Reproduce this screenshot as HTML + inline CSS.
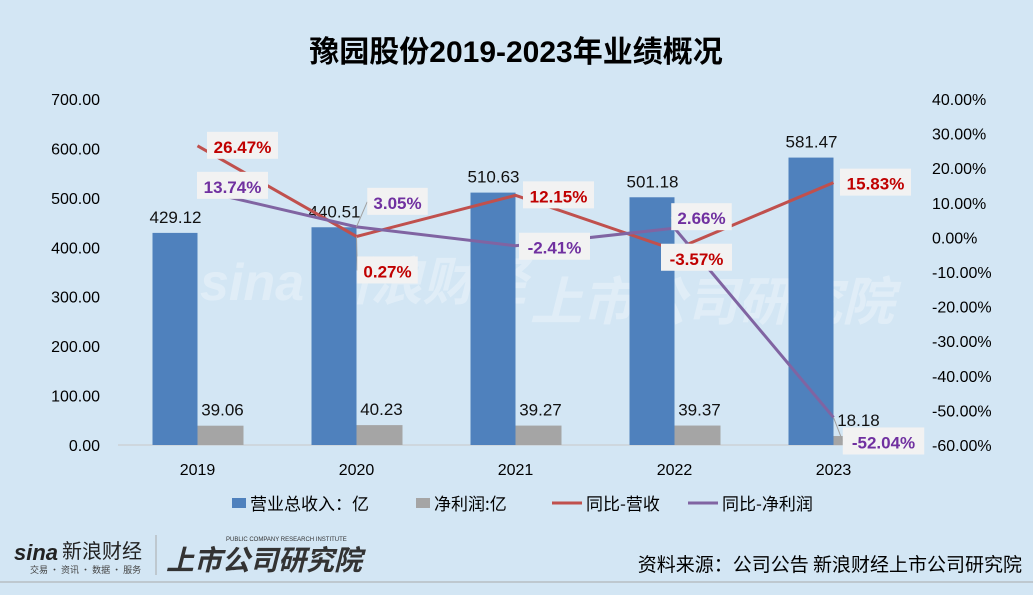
<!DOCTYPE html>
<html><head><meta charset="utf-8"><style>
body{margin:0;width:1033px;height:595px;background:#d3e6f4;overflow:hidden;font-family:"Liberation Sans","Noto Sans CJK SC",sans-serif}
svg{position:absolute;left:0;top:0}
</style></head><body>
<svg id="c" width="1033" height="595">
<text x="516" y="62" text-anchor="middle" font-size="30" font-weight="bold" fill="#000" font-family="Liberation Sans,Noto Sans CJK SC,sans-serif">豫园股份2019-2023年业绩概况</text>
<g opacity="0.3" fill="#fff" font-weight="bold" font-family="Liberation Sans,Noto Sans CJK SC,sans-serif">
<text x="200" y="300" font-size="52" font-style="italic">sina 新浪财经</text>
<text x="530" y="320" font-size="52" font-style="italic">上市公司研究院</text>
</g>
<g id="axes"></g><g id="marks"></g>
<line x1="0" y1="582" x2="1033" y2="582" stroke="#aaa" stroke-width="1"/>
<g><text x="14" y="560" font-size="22" font-weight="bold" font-style="italic" fill="#222">sina</text><text x="62" y="558" font-size="20" fill="#222" font-family="Noto Sans CJK SC,sans-serif">新浪财经</text><text x="30" y="573" font-size="9" fill="#444" font-family="Noto Sans CJK SC,sans-serif">交易 · 资讯 · 数据 · 服务</text></g>
<line x1="156" y1="535" x2="156" y2="575" stroke="#aaa"/>
<g><text x="226" y="541" font-size="6" fill="#333">PUBLIC COMPANY RESEARCH INSTITUTE</text><text x="166" y="570" font-size="28" font-weight="bold" font-style="italic" fill="#333" font-family="Noto Sans CJK SC,sans-serif">上市公司研究院</text></g>
<text x="1022" y="571" text-anchor="end" font-size="19" fill="#000" font-family="Noto Sans CJK SC,sans-serif">资料来源：公司公告 新浪财经上市公司研究院</text>
</svg>
<script>
const years=["2019","2020","2021","2022","2023"];
const revenue=[429.12,440.51,510.63,501.18,581.47];
const profit=[39.06,40.23,39.27,39.37,18.18];
const revYoY=[26.47,0.27,12.15,-3.57,15.83];
const profYoY=[13.74,3.05,-2.41,2.66,-52.04];
const leftTicks=[0,100,200,300,400,500,600,700];
const rightTicks=[40,30,20,10,0,-10,-20,-30,-40,-50,-60];
const NS="http://www.w3.org/2000/svg";
const x0=118,cw=159,base=445,plotTop=99;
const yL=v=>base-(v/700)*(base-plotTop);
const yR=v=>base-((v+60)/100)*(base-plotTop);
const cx=i=>x0+cw*(i+0.5);
const ax=document.getElementById('axes'),mk=document.getElementById('marks');
function el(t,a,p,txt){const e=document.createElementNS(NS,t);for(const k in a)e.setAttribute(k,a[k]);if(txt!==undefined)e.textContent=txt;p.appendChild(e);return e;}
leftTicks.forEach(v=>{const t=el('text',{x:100,y:yL(v)+6,'text-anchor':'end','font-size':16,fill:'#000'},ax,v.toFixed(2));

});
rightTicks.forEach(v=>{const t=el('text',{x:932,y:yR(v)+6,'font-size':16,fill:'#000'},ax,v.toFixed(2)+'%');

});
const bl=el('line',{x1:x0,y1:base,x2:x0+cw*5,y2:base,stroke:'#c8c8c8'},ax);


years.forEach((y,i)=>{const t=el('text',{x:cx(i),y:475,'text-anchor':'middle','font-size':16,fill:'#000'},ax,y);

});
years.forEach((y,i)=>{
const b=el('rect',{x:cx(i)-45,y:yL(revenue[i]),width:45,height:base-yL(revenue[i]),fill:'#4f81bd'},mk);


const g=el('rect',{x:cx(i),y:yL(profit[i]),width:46,height:base-yL(profit[i]),fill:'#a5a5a5'},mk);


const l1=el('text',{x:cx(i)-22,y:yL(revenue[i])-10,'text-anchor':'middle','font-size':17,fill:'#111'},mk,revenue[i].toFixed(2));


const l2=el('text',{x:cx(i)+25,y:yL(profit[i])-10,'text-anchor':'middle','font-size':17,fill:'#111'},mk,profit[i].toFixed(2));


});
function line(data,color,name){const p=el('polyline',{points:data.map((v,i)=>cx(i)+','+yR(v)).join(' '),fill:'none',stroke:color,'stroke-width':3},mk);

}
line(revYoY,'#c0504d','revenue-yoy-line');
line(profYoY,'#8064a2','profit-yoy-line');
const rOff=[[45,0],[31,34],[43,0],[22,8],[42,0]];
const pOff=[[35,-4],[41,-25],[39,1],[27,-11],[50,24]];
const leader=[[0,0],[1,1],[0,0],[0,1],[0,1]];
function lab(data,off,color,name,li){data.forEach((v,i)=>{const px=cx(i),py=yR(v);const x=px+off[i][0],y=py+off[i][1];const s=v.toFixed(2)+'%';const w=s.length*10.5+8;
if(leader[i][li]){const ln=el('line',{x1:px,y1:py,x2:x-w/2,y2:y,stroke:'#a0a0a0','stroke-width':1},mk);

}
const r=el('rect',{x:x-w/2,y:y-14,width:w,height:27,fill:'#f2f2f2'},mk);


const t=el('text',{x:x,y:y+7,'text-anchor':'middle','font-size':17,'font-weight':'bold',fill:color},mk,s);

});}
lab(revYoY,rOff,'#c00000','revenue-yoy-label',0);
lab(profYoY,pOff,'#7030a0','profit-yoy-label',1);
const leg=[['rect','#4f81bd','营业总收入：亿',232],['rect','#a5a5a5','净利润:亿',416],['line','#c0504d','同比-营收',552],['line','#8064a2','同比-净利润',688]];
leg.forEach(l=>{let m;if(l[0]=='rect')m=el('rect',{x:l[3],y:498,width:14,height:10,fill:l[1]},mk);else m=el('line',{x1:l[3],y1:503,x2:l[3]+30,y2:503,stroke:l[1],'stroke-width':3},mk);


const t=el('text',{x:l[3]+(l[0]=='rect'?18:34),y:510,'font-size':17,fill:'#000','font-family':'Noto Sans CJK SC,sans-serif'},mk,l[2]);

});
</script>
</body></html>
